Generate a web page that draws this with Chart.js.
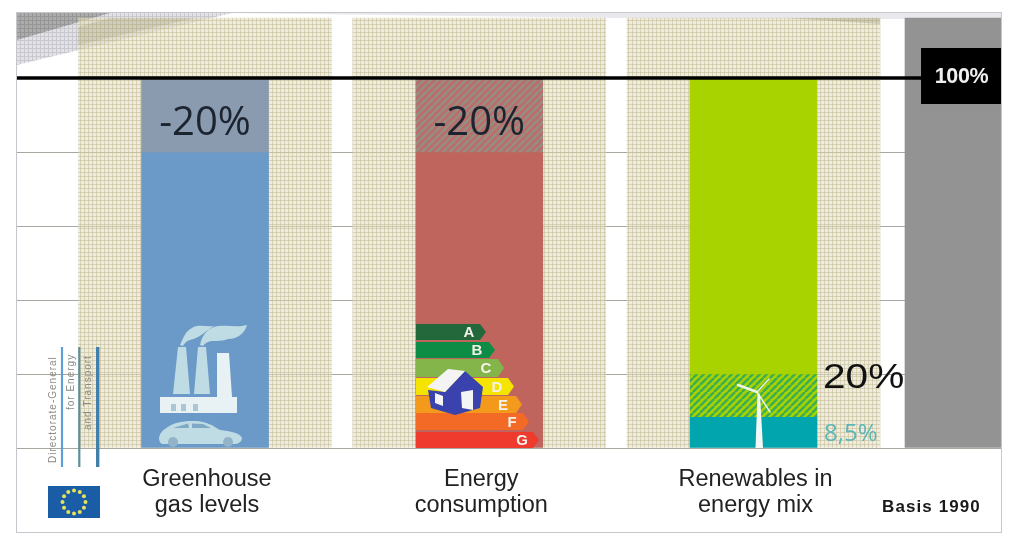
<!DOCTYPE html>
<html lang="en">
<head>
<meta charset="utf-8">
<title>EU 20-20-20 targets</title>
<script src="https://cdn.jsdelivr.net/npm/chart.js@4"></script>
<style>
html,body{margin:0;padding:0;background:#fff;}
canvas{display:block;filter:blur(0.45px);}
</style>
</head>
<body>
<canvas id="c" width="1023" height="540"></canvas>
<script>
// ---- data ----
const categoryPositions = [0, 1, 2];
const tickLabels = [["Greenhouse", "gas levels"], ["Energy", "consumption"], ["Renewables in", "energy mix"]];
const lowerEnd = [80, 80, 8.5];
const middleEnd = [80, 80, 20];
const upperEnd = [100, 100, 100];
const bandTop = [116.2, 116.2, 116.2];
const basisPosition = [2.7293];
const basisValue = [116.2];
const referenceValue = [100, 100];
const yTicks = [0, 20, 40, 60, 80, 100];
const xRange = [-0.6892, 2.9061];
const yRange = [0, 117.84];
const reductionLabels = ["-20%", "-20%"];
const targetLabel = "20%";
const currentLabel = "8,5%";
const referenceLabel = "100%";
const basisLabel = "Basis 1990";
const energyClasses = ["A", "B", "C", "D", "E", "F", "G"];

// ---- fills ----
function tile(size, paint) {
  const t = document.createElement('canvas');
  t.width = t.height = size;
  paint(t.getContext('2d'), size);
  return document.getElementById('c').getContext('2d').createPattern(t, 'repeat');
}
function gridTile(bg, line, size) {
  return tile(size, (g, s) => {
    g.fillStyle = bg; g.fillRect(0, 0, s, s);
    g.fillStyle = line; g.fillRect(0, 0, s, 1); g.fillRect(0, 0, 1, s);
  });
}
function hatchTile(a, b) {
  return tile(7, (g, s) => {
    g.fillStyle = a; g.fillRect(0, 0, s, s);
    g.strokeStyle = b; g.lineWidth = 2.4;
    [-s, 0, s].forEach(o => {
      g.beginPath(); g.moveTo(o, s); g.lineTo(o + s, 0); g.stroke();
    });
  });
}
const beigeGrid = gridTile('rgba(225,220,195,0.55)', 'rgba(195,188,150,0.55)', 4);
const wedgeLight = gridTile('rgba(226,226,232,1)', 'rgba(200,200,206,1)', 4);
const wedgeDark = gridTile('rgba(172,172,172,1)', 'rgba(150,150,150,1)', 4);
const hatchRed = hatchTile('#bc6c6c', '#94907f');
const hatchGreen = hatchTile('#a8d200', '#3aad55');

const lowerColors = ['#6c9ac8', '#c0645e', '#00a5ad'];
const middleColors = ['rgba(0,0,0,0)', 'rgba(0,0,0,0)', hatchGreen];
const upperColors = ['#8a9bb0', hatchRed, '#a8d200'];

// ---- helpers for pictograms ----
function poly(c, pts, fill) {
  c.beginPath();
  pts.forEach((p, i) => i ? c.lineTo(p[0], p[1]) : c.moveTo(p[0], p[1]));
  c.closePath();
  c.fillStyle = fill; c.fill();
}
function factoryIcon(c) {
  const col = '#bfdce4';
  poly(c, [[178, 347], [186, 347], [190, 394], [173, 394]], col);
  poly(c, [[198, 347], [206, 347], [210, 394], [194, 394]], col);
  poly(c, [[217, 353], [229, 353], [232, 397], [217, 397]], '#e8f2f4');
  poly(c, [[160, 397], [237, 397], [237, 413], [160, 413]], '#e8f2f4');
  c.fillStyle = '#a9c6d4';
  [171, 181, 193].forEach(x => c.fillRect(x, 404, 5, 7));
  c.fillStyle = col;
  c.beginPath();
  c.moveTo(180, 345);
  c.bezierCurveTo(184, 336, 186, 331, 192, 328);
  c.bezierCurveTo(198, 324, 206, 327, 214, 326);
  c.bezierCurveTo(204, 332, 200, 338, 190, 340);
  c.bezierCurveTo(186, 341, 184, 344, 183, 346);
  c.closePath();
  c.fill();
  c.beginPath();
  c.moveTo(200, 345);
  c.bezierCurveTo(202, 336, 206, 330, 214, 327);
  c.bezierCurveTo(225, 324, 236, 328, 247, 325);
  c.bezierCurveTo(244, 335, 236, 339, 228, 339);
  c.bezierCurveTo(220, 342, 212, 340, 208, 342);
  c.bezierCurveTo(205, 343, 204, 345, 203, 346);
  c.closePath();
  c.fill();
  // car
  c.beginPath();
  c.moveTo(159, 438);
  c.bezierCurveTo(160, 433, 162, 431, 165, 429);
  c.bezierCurveTo(172, 423, 182, 421, 192, 421);
  c.bezierCurveTo(205, 420, 214, 426, 220, 430);
  c.bezierCurveTo(230, 431, 240, 433, 242, 438);
  c.bezierCurveTo(242, 441, 240, 443, 236, 444);
  c.lineTo(162, 444);
  c.bezierCurveTo(160, 443, 159, 441, 159, 438);
  c.closePath();
  c.fill();
  poly(c, [[173, 428], [188, 423.5], [189, 428]], '#7fa8c4');
  poly(c, [[192, 423.5], [203, 424], [211, 428], [192, 428]], '#7fa8c4');
  [173, 228].forEach(x => {
    c.beginPath(); c.arc(x, 442, 5, 0, Math.PI * 2); c.fillStyle = '#93b4c8'; c.fill();
  });
}
function energyIcon(c) {
  const rows = [
    [324, 340, 486, '#23683a', 469],
    [342, 358, 495, '#0c8c45', 477],
    [359, 377, 504, '#84b54a', 486],
    [378, 395, 514, '#f4e400', 497],
    [396, 413, 522, '#f39a1c', 503],
    [413, 430, 529, '#f26a26', 512],
    [432, 448, 539, '#ee3b2e', 522]
  ];
  c.textAlign = 'center'; c.textBaseline = 'middle';
  c.font = 'bold 15px "Liberation Sans"';
  rows.forEach((r, i) => {
    const mid = (r[0] + r[1]) / 2;
    poly(c, [[416, r[0]], [r[2] - 6, r[0]], [r[2], mid], [r[2] - 6, r[1]], [416, r[1]]], r[3]);
    c.fillStyle = '#f6f2ea';
    c.fillText(energyClasses[i], r[4], mid + 1);
  });
  poly(c, [[428, 390], [445, 392], [465, 371], [483, 387], [480, 408], [455, 415], [431, 408]], '#3a43ad');
  poly(c, [[427, 387], [448, 369], [465, 371], [445, 392]], '#f4f4f4');
  poly(c, [[461, 392], [473, 390], [473, 410], [462, 408]], '#f4f4f4');
  poly(c, [[435, 393], [443, 396], [443, 406], [435, 403]], '#f4f4f4');
}
function turbineIcon(c) {
  poly(c, [[757.5, 394], [760, 394], [763, 448], [755.5, 448]], '#f4f8f4');
  c.strokeStyle = '#eaf5e8'; c.lineWidth = 2; c.lineCap = 'round';
  [[738, 385], [769, 379], [770, 412]].forEach((p, i) => {
    c.lineWidth = i === 0 ? 2.5 : 1.4;
    c.beginPath(); c.moveTo(757, 392); c.lineTo(p[0], p[1]); c.stroke();
  });
  c.lineCap = 'butt';
}
function institutionMark(c) {
  [[62, 2.2, '#5f9fd6'], [79.3, 2.2, '#5d8f98'], [97.7, 3.4, '#4180a8']].forEach(l => {
    c.fillStyle = l[2]; c.fillRect(l[0] - l[1] / 2, 347, l[1], 120);
  });
  c.fillStyle = '#8a8a84';
  c.font = '10px "Liberation Sans"';
  c.textAlign = 'left'; c.textBaseline = 'middle';
  c.letterSpacing = '1px';
  [['Directorate-General', 53.5, 463], ['for Energy', 71.5, 410], ['and Transport', 88, 430]].forEach(t => {
    c.save(); c.translate(t[1], t[2]); c.rotate(-Math.PI / 2);
    c.fillText(t[0], 0, 0); c.restore();
  });
  c.letterSpacing = '0px';
  c.fillStyle = '#1a5ca6'; c.fillRect(48, 486, 52, 32);
  c.fillStyle = '#e8e25a';
  for (let i = 0; i < 12; i++) {
    const a = i * Math.PI / 6;
    c.beginPath(); c.arc(74 + 11.5 * Math.cos(a), 502 + 11.5 * Math.sin(a), 2, 0, Math.PI * 2); c.fill();
  }
}
function stretchedText(c, text, x, y, sx) {
  c.save(); c.translate(x, y); c.scale(sx, 1); c.fillText(text, 0, 0); c.restore();
}

// ---- chart furniture ----
const furniture = {
  id: 'furniture',
  beforeDatasetsDraw(chart) {
    const c = chart.ctx;
    c.save();
    poly(c, [[17, 13], [232, 13], [17, 65]], wedgeLight);
    poly(c, [[17, 13], [110, 13], [17, 40]], wedgeDark);
    poly(c, [[230, 13], [1001, 13], [1001, 19], [700, 19]], 'rgba(222,222,230,0.7)');
    c.restore();
  },
  afterDatasetsDraw(chart) {
    const c = chart.ctx;
    const x = chart.scales.x, y = chart.scales.y, area = chart.chartArea;
    c.save();
    poly(c, [[110, 18], [195, 18], [78, 45], [78, 27]], 'rgba(140,134,100,0.18)');
    poly(c, [[785, 18], [880, 18], [880, 24]], 'rgba(140,134,100,0.3)');
    factoryIcon(c);
    energyIcon(c);
    turbineIcon(c);
    institutionMark(c);

    // reference box
    const yRef = y.getPixelForValue(referenceValue[0]);
    c.fillStyle = '#000';
    c.fillRect(921, yRef - 30, area.right - 921, 56);
    c.fillStyle = '#f0f0f0';
    c.textAlign = 'center'; c.textBaseline = 'middle';
    c.font = 'bold 21.5px "Liberation Sans"';
    c.letterSpacing = '-0.4px';
    c.fillText(referenceLabel, 961.5, yRef - 1);
    c.letterSpacing = '0px';

    // reduction labels
    c.fillStyle = '#1c2430';
    c.font = '40px "Open Sans"';
    reductionLabels.forEach((t, i) => {
      c.fillText(t, x.getPixelForValue(categoryPositions[i]), y.getPixelForValue(90) + 9);
    });

    // renewables labels
    c.textAlign = 'left';
    c.fillStyle = '#111';
    c.font = '35px "Liberation Sans"';
    stretchedText(c, targetLabel, 823, y.getPixelForValue(middleEnd[2]) + 4, 1.16);
    c.fillStyle = '#5cb6b8';
    c.font = '24px "Open Sans"';
    c.fillText(currentLabel, 824, 434);

    // basis note
    c.fillStyle = '#1a1a1a';
    c.font = 'bold 17px "Liberation Sans"';
    c.letterSpacing = '1.1px';
    c.fillText(basisLabel, 882, 507);
    c.letterSpacing = '0px';

    // outer frame
    c.strokeStyle = '#c6c6cc'; c.lineWidth = 1;
    c.strokeRect(16.5, 12.5, 985, 520);
    c.restore();
  }
};

const toPoints = (ends, starts) => categoryPositions.map((p, i) => ({ x: p, y: [starts[i], ends[i]] }));
const zeros = categoryPositions.map(() => 0);

new Chart(document.getElementById('c'), {
  data: {
    datasets: [
      { type: 'line', label: 'Basis 1990 level', order: 0,
        data: [{ x: xRange[0], y: referenceValue[0] }, { x: xRange[1], y: referenceValue[1] }],
        borderColor: '#000', borderWidth: 3.5, pointRadius: 0, fill: false, clip: false },
      { type: 'bar', label: 'Upper part', order: 1, grouped: false, barThickness: 127,
        data: toPoints(upperEnd, middleEnd), backgroundColor: upperColors },
      { type: 'bar', label: 'Middle part', order: 2, grouped: false, barThickness: 127,
        data: toPoints(middleEnd, lowerEnd), backgroundColor: middleColors },
      { type: 'bar', label: 'Lower part', order: 3, grouped: false, barThickness: 127,
        data: toPoints(lowerEnd, zeros), backgroundColor: lowerColors },
      { type: 'bar', label: 'Band', order: 4, grouped: false, barThickness: 253,
        data: toPoints(bandTop, zeros), backgroundColor: beigeGrid },
      { type: 'bar', label: 'Basis', order: 5, grouped: false, barThickness: 97,
        data: basisPosition.map((p, i) => ({ x: p, y: [0, basisValue[i]] })), backgroundColor: '#939393' }
    ]
  },
  options: {
    responsive: false,
    animation: false,
    layout: { padding: { left: 16, right: 21, top: 12, bottom: 0 } },
    plugins: { legend: { display: false }, tooltip: { enabled: false } },
    scales: {
      x: {
        type: 'linear',
        offset: false,
        min: xRange[0], max: xRange[1],
        afterBuildTicks(axis) { axis.ticks = categoryPositions.map(v => ({ value: v })); },
        afterFit(axis) { axis.height = 92; },
        grid: { display: false, offset: false },
        border: { display: false },
        ticks: {
          autoSkip: false, maxRotation: 0, minRotation: 0, padding: 10, labelOffset: 2,
          color: '#222',
          font: { family: '"Liberation Sans"', size: 23.5, lineHeight: 1.11 },
          callback: (v, i) => tickLabels[i]
        }
      },
      y: {
        min: yRange[0], max: yRange[1],
        afterBuildTicks(axis) { axis.ticks = yTicks.map(v => ({ value: v })); },
        afterFit(axis) { axis.width = 0; },
        border: { display: false },
        grid: { color: '#a8a8a0', lineWidth: 1, drawTicks: false },
        ticks: { display: false }
      }
    }
  },
  plugins: [furniture]
});
</script>
</body>
</html>
